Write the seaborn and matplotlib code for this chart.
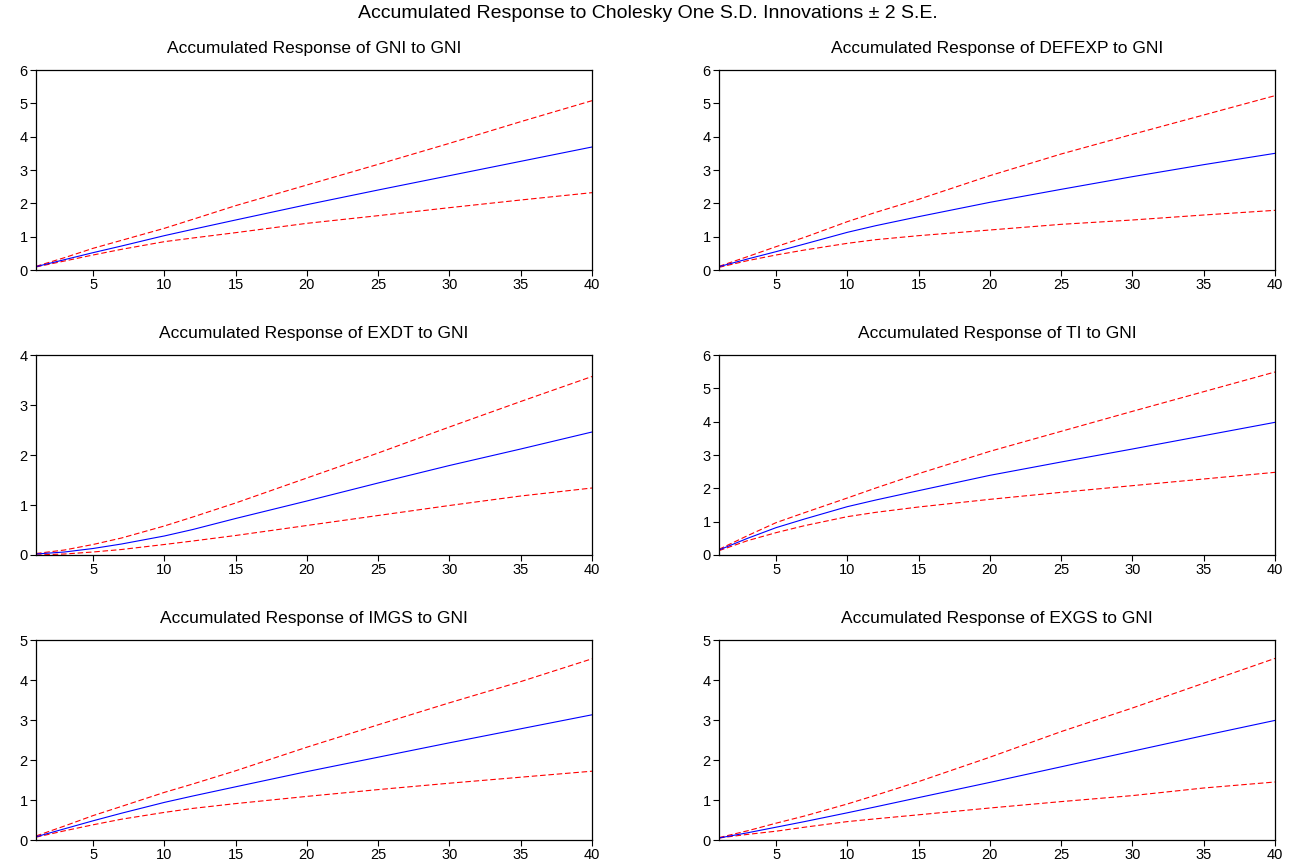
import numpy as np
import pandas as pd
import matplotlib
matplotlib.use("Agg")
import matplotlib.pyplot as plt
import seaborn as sns

# ---- data ----
periods = [1, 3, 5, 7, 10, 12, 15, 20, 25, 30, 35, 40]

titles = [
    "Accumulated Response of GNI to GNI",
    "Accumulated Response of DEFEXP to GNI",
    "Accumulated Response of EXDT to GNI",
    "Accumulated Response of TI to GNI",
    "Accumulated Response of IMGS to GNI",
    "Accumulated Response of EXGS to GNI",
]

gni_resp  = [0.10, 0.31, 0.52, 0.72, 1.03, 1.22, 1.50, 1.96, 2.40, 2.83, 3.26, 3.69]
gni_upper = [0.11, 0.37, 0.65, 0.89, 1.25, 1.52, 1.93, 2.55, 3.17, 3.80, 4.45, 5.08]
gni_lower = [0.09, 0.27, 0.45, 0.62, 0.85, 0.96, 1.12, 1.40, 1.63, 1.87, 2.10, 2.32]

def_resp  = [0.10, 0.33, 0.55, 0.78, 1.13, 1.33, 1.60, 2.03, 2.42, 2.80, 3.16, 3.50]
def_upper = [0.11, 0.40, 0.70, 0.98, 1.45, 1.73, 2.12, 2.83, 3.48, 4.07, 4.65, 5.23]
def_lower = [0.08, 0.28, 0.45, 0.60, 0.80, 0.91, 1.03, 1.20, 1.37, 1.50, 1.65, 1.79]

exdt_resp  = [0.02, 0.06, 0.13, 0.22, 0.38, 0.51, 0.73, 1.08, 1.44, 1.79, 2.12, 2.46]
exdt_upper = [0.03, 0.10, 0.21, 0.34, 0.58, 0.76, 1.04, 1.54, 2.04, 2.56, 3.07, 3.57]
exdt_lower = [0.00, 0.02, 0.06, 0.11, 0.21, 0.28, 0.39, 0.59, 0.79, 0.99, 1.18, 1.34]

ti_resp  = [0.15, 0.50, 0.82, 1.08, 1.45, 1.65, 1.93, 2.39, 2.79, 3.18, 3.58, 3.98]
ti_upper = [0.17, 0.58, 0.97, 1.27, 1.71, 2.01, 2.44, 3.11, 3.71, 4.31, 4.90, 5.49]
ti_lower = [0.13, 0.43, 0.67, 0.88, 1.15, 1.28, 1.44, 1.67, 1.88, 2.08, 2.28, 2.48]

imgs_resp  = [0.08, 0.28, 0.48, 0.67, 0.94, 1.10, 1.33, 1.71, 2.07, 2.43, 2.78, 3.13]
imgs_upper = [0.10, 0.35, 0.61, 0.84, 1.19, 1.40, 1.73, 2.32, 2.88, 3.43, 3.96, 4.53]
imgs_lower = [0.07, 0.23, 0.38, 0.52, 0.69, 0.79, 0.91, 1.09, 1.26, 1.42, 1.57, 1.72]

exgs_resp  = [0.05, 0.18, 0.32, 0.46, 0.68, 0.83, 1.06, 1.44, 1.83, 2.22, 2.61, 2.99]
exgs_upper = [0.06, 0.23, 0.42, 0.60, 0.90, 1.12, 1.46, 2.07, 2.71, 3.30, 3.92, 4.54]
exgs_lower = [0.05, 0.14, 0.22, 0.32, 0.46, 0.53, 0.63, 0.80, 0.96, 1.11, 1.30, 1.45]

y_max = [6, 6, 4, 6, 5, 5]
x_ticks = [5, 10, 15, 20, 25, 30, 35, 40]

panels = [
    (gni_resp, gni_upper, gni_lower),
    (def_resp, def_upper, def_lower),
    (exdt_resp, exdt_upper, exdt_lower),
    (ti_resp, ti_upper, ti_lower),
    (imgs_resp, imgs_upper, imgs_lower),
    (exgs_resp, exgs_upper, exgs_lower),
]

# ---- style ----
sns.set_theme(style="white")
plt.rcParams['font.family'] = ['Liberation Sans', 'DejaVu Sans']

W, H = 1296, 861
fig = plt.figure(figsize=(W / 100, H / 100), dpi=100)

lefts = [36, 719]
tops = [70, 355, 640]
aw, ah = 556, 200

for i, (resp, up, lo) in enumerate(panels):
    r, c = divmod(i, 2)
    ax = fig.add_axes([lefts[c] / W, 1 - (tops[r] + ah) / H, aw / W, ah / H])
    df = pd.DataFrame({"period": periods, "resp": resp, "upper": up, "lower": lo})
    sns.lineplot(data=df, x="period", y="upper", ax=ax, color="#ff0000",
                 lw=0.8, linestyle=(0, (5, 2.5)))
    sns.lineplot(data=df, x="period", y="lower", ax=ax, color="#ff0000",
                 lw=0.8, linestyle=(0, (5, 2.5)))
    sns.lineplot(data=df, x="period", y="resp", ax=ax, color="#0000ff", lw=0.8)
    ax.set_xlim(1, 40)
    ax.set_ylim(0, y_max[i])
    ax.set_xticks(x_ticks)
    ax.set_yticks(range(0, y_max[i] + 1))
    ax.set_xlabel("")
    ax.set_ylabel("")
    ax.set_title(titles[i], fontsize=12.5, pad=12, color="black")
    for s in ax.spines.values():
        s.set_color("black")
        s.set_linewidth(0.9)
    ax.tick_params(axis="both", which="both", direction="out", length=4,
                   width=0.8, color="black", labelsize=10.5, labelcolor="black",
                   pad=2, bottom=True, left=True)
    ax.grid(False)

fig.text(0.5, 1 - 14 / H, "Accumulated Response to Cholesky One S.D. Innovations \u00b1 2 S.E.",
         ha="center", va="center", fontsize=14, color="black")

fig.savefig("out.png", dpi=100)
